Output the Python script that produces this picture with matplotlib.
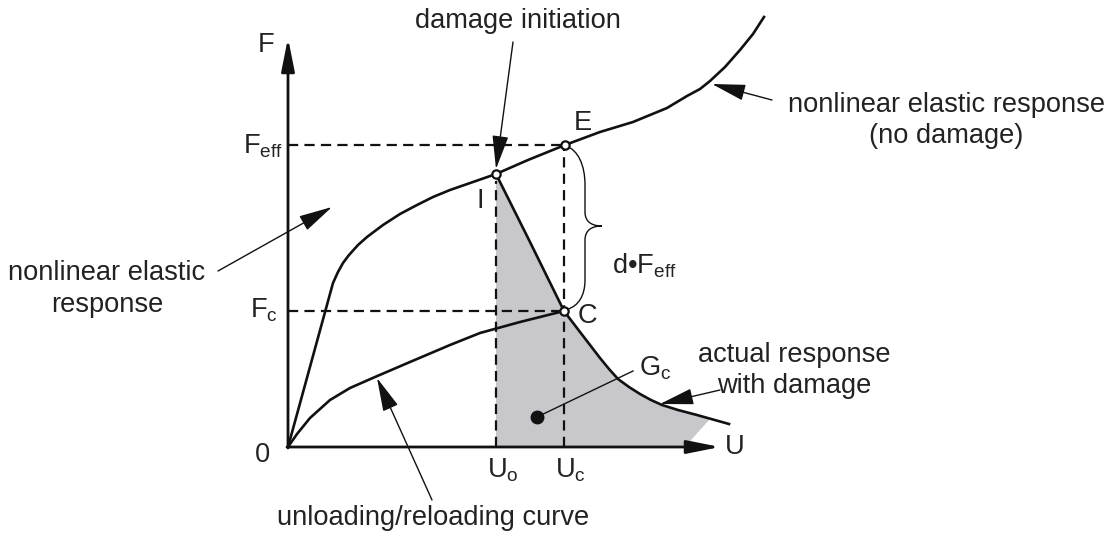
import matplotlib
matplotlib.use("Agg")
import matplotlib.pyplot as plt
from matplotlib.path import Path
from matplotlib.patches import PathPatch

plt.rcParams['font.family'] = ['Liberation Sans', 'DejaVu Sans']
plt.rcParams['mathtext.fontset'] = 'custom'
plt.rcParams['mathtext.rm'] = 'Liberation Sans'
plt.rcParams['mathtext.it'] = 'Liberation Sans'

# ---- data (U = displacement, F = force), schematic units ----
load_U = [0, 45, 50, 55, 61, 70, 79, 95, 112, 129, 145, 162, 185, 208]
load_F = [0, 164, 175, 184, 192, 202, 210, 222, 233, 242, 250, 257, 265, 273]

elastic_U = [208, 240, 277, 312, 345, 379, 399, 412, 422, 437, 452, 465, 476]
elastic_F = [273, 287, 302, 315, 325, 339, 351, 358, 366, 380, 397, 413, 430]

damage_U = [208, 242, 276, 292, 312, 321, 330, 341, 352, 363, 374, 390, 409, 441]
damage_F = [273, 205, 136, 115, 89, 78, 68, 60, 53, 47, 42, 37, 32, 23]

unload_U = [0, 9, 22, 42, 62, 87, 122, 162, 192, 232, 276]
unload_F = [0, 13, 29, 47, 59, 70, 85, 102, 114, 125, 136]

fill_tail_U = [422, 412, 397]
fill_tail_F = [28, 17, 0]

U0, Uc = 208, 276
F_eff, F_c = 302, 136
I_pt = (208, 273)
E_pt = (277, 302)
C_pt = (276, 136)
Gc_dot = (249, 30)

fig = plt.figure(figsize=(11.12, 5.39), dpi=100)
ax = fig.add_axes([0, 0, 1, 1])
ax.set_xlim(-288, 824)
ax.set_ylim(-92, 447)
ax.axis('off')

FS = 19.6
black = '#111111'
lw_main = 1.9

# gray area G_c
dmg_mask = [u <= 422 for u in damage_U]
poly_U = [U0] + [u for u, m in zip(damage_U, dmg_mask) if m] + fill_tail_U
poly_F = [0] + [f for f, m in zip(damage_F, dmg_mask) if m] + fill_tail_F
ax.fill(poly_U + [U0], poly_F + [0], color='#c8c8cc', lw=0, zorder=1)

# dashed guides
dash = dict(color=black, lw=1.6, dashes=(4.6, 2.8), zorder=2)
ax.plot([0, E_pt[0]], [F_eff, F_eff], **dash)
ax.plot([0, C_pt[0]], [F_c, F_c], **dash)
ax.plot([U0, U0], [0, 266], **dash)
ax.plot([Uc, Uc], [0, 297], **dash)

# curves
ax.plot(load_U, load_F, color=black, lw=lw_main, zorder=3, solid_joinstyle='round')
ax.plot(elastic_U, elastic_F, color=black, lw=lw_main, zorder=3, solid_joinstyle='round')
ax.plot(damage_U, damage_F, color=black, lw=lw_main, zorder=3, solid_joinstyle='round')
ax.plot(unload_U, unload_F, color=black, lw=lw_main, zorder=3, solid_joinstyle='round')

# axes arrows
ax_arrow = dict(arrowstyle='-|>,head_length=1.0,head_width=0.2', color=black,
                lw=2.0, mutation_scale=20, shrinkA=0, shrinkB=0)
ax.annotate('', xy=(0, 409), xytext=(0, -1), arrowprops=ax_arrow, zorder=4)
ax.annotate('', xy=(432, 0), xytext=(-1, 0), arrowprops=ax_arrow, zorder=4)

# points
for p in (I_pt, E_pt, C_pt):
    ax.plot(*p, marker='o', ms=6, mfc='white', mec=black, mew=1.6, zorder=5)
ax.plot(*Gc_dot, marker='o', ms=9, color=black, zorder=5)
ax.plot([Gc_dot[0], 345], [Gc_dot[1], 76], color=black, lw=1.0, zorder=5)

# brace d*F_eff
verts = [(278, 301), (290, 297), (297, 282), (297, 262),
         (297, 235),
         (297, 225), (304, 221), (314, 221),
         (304, 221), (297, 217), (297, 207),
         (297, 167),
         (297, 151), (290, 141), (280, 138)]
codes = [Path.MOVETO, Path.CURVE4, Path.CURVE4, Path.CURVE4,
         Path.LINETO,
         Path.CURVE4, Path.CURVE4, Path.CURVE4,
         Path.CURVE4, Path.CURVE4, Path.CURVE4,
         Path.LINETO,
         Path.CURVE4, Path.CURVE4, Path.CURVE4]
ax.add_patch(PathPatch(Path(verts, codes), fill=False, lw=1.0, ec=black, zorder=4))

# pointer arrows
ptr = dict(arrowstyle='-|>,head_length=1.0,head_width=0.24', color=black,
           lw=1.0, mutation_scale=21, shrinkA=0, shrinkB=0)
ax.annotate('', xy=(208, 278), xytext=(225, 405), arrowprops=ptr, zorder=6)
ax.annotate('', xy=(44, 240), xytext=(-70, 176), arrowprops=ptr, zorder=6)
ax.annotate('', xy=(424, 363), xytext=(484, 347), arrowprops=ptr, zorder=6)
ax.annotate('', xy=(89, 69), xytext=(144, -53), arrowprops=ptr, zorder=6)
ax.annotate('', xy=(372, 43), xytext=(432, 57), arrowprops=ptr, zorder=6)

# text
t = dict(fontsize=FS, color='#222222', zorder=7)
ax.text(-22, 402, 'F', ha='center', va='center', **t)
ax.text(447, 0, 'U', ha='center', va='center', **t)
ax.text(-25, -8, '0', ha='center', va='center', **t)
ax.text(-5, 294, r'F$_{\mathrm{eff}}$', ha='right', va='baseline', **t)
ax.text(-10, 129, r'F$_{\mathrm{c}}$', ha='right', va='baseline', **t)
ax.text(199, -30, r'U$_{\mathrm{o}}$', ha='left', va='baseline', **t)
ax.text(267, -30, r'U$_{\mathrm{c}}$', ha='left', va='baseline', **t)
ax.text(286, 317, 'E', ha='left', va='baseline', **t)
ax.text(192, 239, 'I', ha='center', va='baseline', **t)
ax.text(290, 124, 'C', ha='left', va='baseline', **t)
ax.text(351, 72, r'G$_{\mathrm{c}}$', ha='left', va='baseline', **t)
ax.text(324, 174, 'd\u2022F$_{\\mathrm{eff}}$', ha='left', va='baseline', **t)
ax.text(230, 419, 'damage initiation', ha='center', va='baseline', **t)
ax.text(658, 335, 'nonlinear elastic response', ha='center', va='baseline', **t)
ax.text(658, 304, '(no damage)', ha='center', va='baseline', **t)
ax.text(-181, 167, 'nonlinear elastic', ha='center', va='baseline', **t)
ax.text(-181, 135, 'response', ha='center', va='baseline', **t)
ax.text(506, 85, 'actual response', ha='center', va='baseline', **t)
ax.text(506, 54, 'with damage', ha='center', va='baseline', **t)
ax.text(145, -78, 'unloading/reloading curve', ha='center', va='baseline', **t)

fig.savefig('out.png', dpi=100)
